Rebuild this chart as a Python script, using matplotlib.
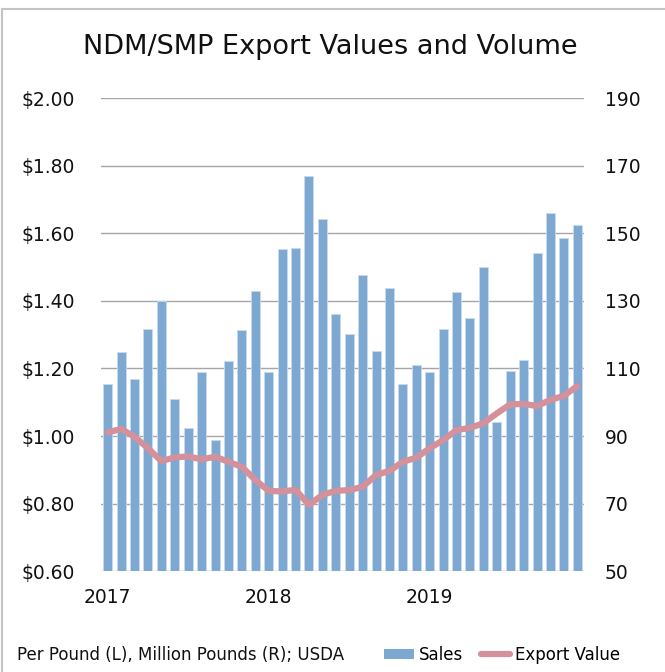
import matplotlib
matplotlib.use('Agg')
import matplotlib.pyplot as plt
from matplotlib.lines import Line2D
from matplotlib.patches import Patch

# monthly, Jan 2017 .. Dec 2019
months = list(range(36))
year_ticks = [0, 12, 24]
year_labels = ['2017', '2018', '2019']

# Sales, million pounds (right axis)
sales = [105.4, 114.8, 106.9, 121.6, 130.1, 101.0, 92.3, 109.0, 88.8, 112.1, 121.4, 132.8,
         109.0, 145.3, 145.7, 167.0, 154.1, 126.2, 120.1, 137.6, 115.2, 133.8, 105.4, 110.9,
         109.0, 121.6, 132.6, 124.8, 140.1, 94.3, 109.2, 112.5, 144.2, 155.9, 148.6, 152.5]

# Export value, $ per pound (left axis)
export_value = [1.011, 1.021, 0.998, 0.964, 0.926, 0.937, 0.940, 0.931, 0.939, 0.924, 0.909, 0.870,
                0.838, 0.836, 0.841, 0.796, 0.826, 0.838, 0.840, 0.850, 0.885, 0.897, 0.924, 0.936,
                0.964, 0.988, 1.018, 1.024, 1.038, 1.067, 1.094, 1.095, 1.089, 1.107, 1.119, 1.148]

left_ticks = [0.60, 0.80, 1.00, 1.20, 1.40, 1.60, 1.80, 2.00]
right_ticks = [50, 70, 90, 110, 130, 150, 170, 190]

BAR_COLOR = '#7DA8D2'
LINE_COLOR = '#D4919B'
GRID_COLOR = '#A6A6A6'
TEXT_COLOR = '#111111'

plt.rcParams['font.family'] = ['DejaVu Sans']

fig = plt.figure(figsize=(6.65, 6.72), dpi=100)
ax = fig.add_axes([0.1519, 0.1499, 0.7263, 0.7041])
ax2 = ax.twinx()

# bars on the right axis (million pounds)
ax2.bar(months, sales, width=0.67, color=BAR_COLOR, edgecolor='#C9DBEE', linewidth=0.6, zorder=2)
ax2.set_ylim(50, 190)
ax2.set_yticks(right_ticks)
ax2.set_yticklabels([str(v) for v in right_ticks])

ax.set_ylim(0.60, 2.00)
ax.set_yticks(left_ticks)
ax.set_yticklabels([f'${v:.2f}' for v in left_ticks])
ax.set_xlim(-0.5, 35.5)
ax.set_xticks(year_ticks)
ax.set_xticklabels(year_labels)

# gridlines behind the bars
for v in left_ticks:
    ax.axhline(v, color=GRID_COLOR, linewidth=1.0, zorder=0)

# line sits above the bars -> draw on ax2, mapping $ to the right scale
scale = lambda d: 50 + (d - 0.60) * 100
ax2.plot(months, [scale(v) for v in export_value], color=LINE_COLOR, linewidth=4.5,
         solid_capstyle='round', zorder=3)

for a in (ax, ax2):
    for s in a.spines.values():
        s.set_visible(False)
    a.tick_params(length=0, labelsize=13.5, colors=TEXT_COLOR)
ax.tick_params(axis='y', pad=19)
ax2.tick_params(axis='y', pad=15)
ax.tick_params(axis='x', pad=12)

fig.text(0.497, 0.930, 'NDM/SMP Export Values and Volume', ha='center', va='center',
         fontsize=19.5, color=TEXT_COLOR)

fig.text(17 / 665, 1 - 655 / 672, 'Per Pound (L), Million Pounds (R); USDA', ha='left',
         va='center', fontsize=12, color=TEXT_COLOR)

handles = [Patch(facecolor=BAR_COLOR, edgecolor='none'),
           Line2D([0], [0], color=LINE_COLOR, linewidth=4.5, solid_capstyle='round')]
fig.legend(handles, ['Sales', 'Export Value'], loc='center left',
           bbox_to_anchor=(376 / 665, 1 - 655 / 672), borderpad=0, ncol=2, frameon=False,
           fontsize=12, handlelength=1.75, handleheight=0.6, handletextpad=0.3,
           columnspacing=1.1)

# chart frame (top and left edges)
fig.add_artist(Line2D([0.003, 1.0], [1 - 9 / 672, 1 - 9 / 672], transform=fig.transFigure,
                      color='#C4C4C4', linewidth=1.5))
fig.add_artist(Line2D([0.003, 0.003], [0.0, 1 - 9 / 672], transform=fig.transFigure,
                      color='#C4C4C4', linewidth=1.5))

fig.savefig('out.png', dpi=100, facecolor='white')
